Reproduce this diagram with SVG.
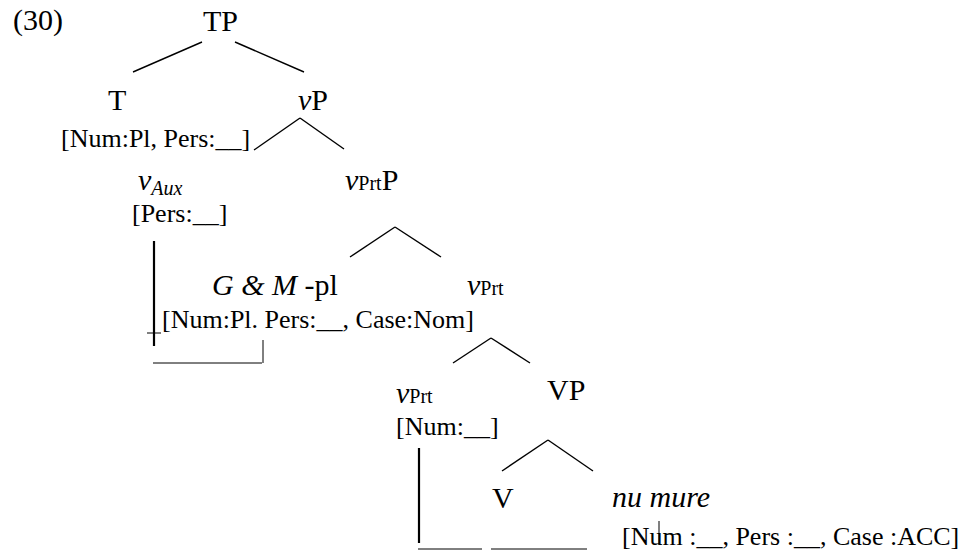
<svg xmlns="http://www.w3.org/2000/svg" width="966" height="551" viewBox="0 0 966 551">
<style>
text{font-family:"Liberation Serif","Times New Roman",serif;fill:#000}
.lab{font-size:30px}
.ft{font-size:26px}
.it{font-style:italic}
.sub{font-size:20px}
.br{stroke:#000;stroke-width:1.4;fill:none}
.mv{stroke:#000;stroke-width:2.2;fill:none}
.ul{stroke:#000;stroke-width:1;fill:none}
</style>
<rect width="966" height="551" fill="#fff"/>
<g id="connectors">
<line class="br" x1="202" y1="42" x2="133" y2="72"/>
<line class="br" x1="235" y1="42" x2="304" y2="72"/>
<line class="br" x1="300" y1="118" x2="254" y2="150"/>
<line class="br" x1="300" y1="118" x2="344" y2="149"/>
<line class="br" x1="395" y1="227" x2="350" y2="257"/>
<line class="br" x1="395" y1="227" x2="441" y2="257"/>
<line class="br" x1="491" y1="338" x2="453" y2="363"/>
<line class="br" x1="491" y1="338" x2="530" y2="363"/>
<line class="br" x1="548" y1="440" x2="502" y2="471"/>
<line class="br" x1="548" y1="440" x2="593" y2="471"/>
<line class="mv" x1="154" y1="241" x2="154" y2="346"/>
<line class="ul" x1="147" y1="333" x2="161" y2="333"/>
<line class="ul" x1="153" y1="363" x2="262" y2="363"/>
<line class="ul" x1="263" y1="340" x2="263" y2="363"/>
<line class="mv" x1="419" y1="448" x2="419" y2="543"/>
<line class="ul" x1="418" y1="549" x2="482" y2="549"/>
<line class="ul" x1="491" y1="549" x2="587" y2="549"/>
<line class="ul" x1="659" y1="521" x2="659" y2="545"/>
</g>
<g id="ex"><text class="lab" x="13" y="30">(30)</text></g>
<g id="TP"><text class="lab" x="203" y="31">TP</text></g>
<g id="T"><text class="lab" x="108" y="110">T</text><text class="ft" x="61" y="147">[Num:Pl, Pers:__]</text></g>
<g id="vP"><text class="lab" x="298" y="110"><tspan class="it">v</tspan>P</text></g>
<g id="vAux"><text class="lab" x="138" y="190"><tspan class="it">v</tspan><tspan class="sub it" dy="5">Aux</tspan></text><text class="ft" x="132" y="222">[Pers:__]</text></g>
<g id="vPrtP"><text class="lab" x="345" y="190"><tspan class="it">v</tspan><tspan class="sub">Prt</tspan>P</text></g>
<g id="GM"><text class="lab" x="212" y="295"><tspan class="it">G</tspan> <tspan class="it">&amp;</tspan> <tspan class="it">M</tspan> -pl</text><text class="ft" x="162" y="328">[Num:Pl. Pers:__, Case:Nom]</text></g>
<g id="vPrt1"><text class="lab" x="467" y="295"><tspan class="it">v</tspan><tspan class="sub">Prt</tspan></text></g>
<g id="vPrt2"><text class="lab" x="396" y="403"><tspan class="it">v</tspan><tspan class="sub">Prt</tspan></text><text class="ft" x="396" y="435">[Num:__]</text></g>
<g id="VP"><text class="lab" x="547" y="400">VP</text></g>
<g id="V"><text class="lab" x="492" y="508">V</text></g>
<g id="numure"><text class="lab it" x="612" y="507">nu mure</text><text class="ft" x="622" y="545">[Num :__, Pers :__, Case :ACC]</text></g>
</svg>
